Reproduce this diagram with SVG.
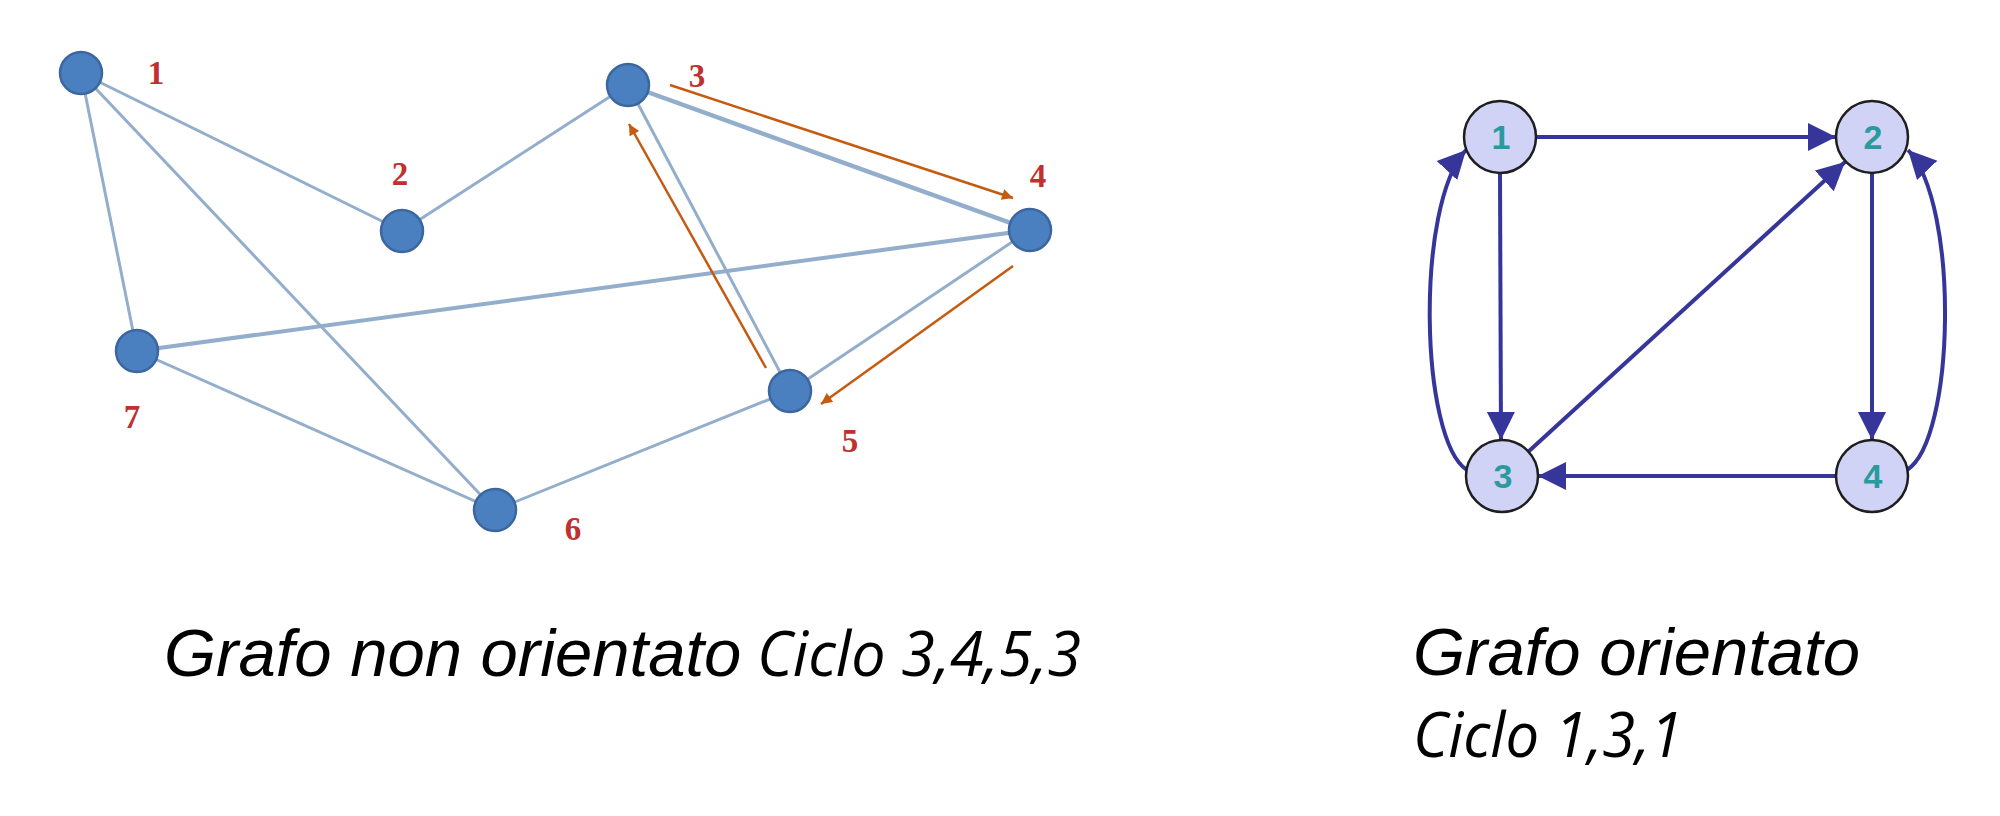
<svg xmlns="http://www.w3.org/2000/svg" width="2000" height="816" viewBox="0 0 2000 816">
<style>
.ue{stroke:#93aecb;stroke-width:3;fill:none}
.un circle{fill:#4a7fc0;stroke:#3b66a0;stroke-width:2.5}
.ul{font-family:"Liberation Serif",serif;font-weight:bold;font-size:33px;fill:#c0302e;text-anchor:middle}
.oa{stroke:#c55a11;stroke-width:2.5;fill:none;marker-end:url(#oarr)}
.de{stroke:#36359a;stroke-width:4;fill:none;marker-end:url(#darr)}
.dn circle{fill:#d0d2f6;stroke:#1e1e1e;stroke-width:2.5}
.dl{font-family:"Liberation Sans",Arial,sans-serif;font-weight:bold;font-size:34px;fill:#2b9a9c;text-anchor:middle}
.cap{font-family:"Liberation Sans",Arial,sans-serif;font-style:italic;font-size:67px;fill:#000}
.cyc{font-family:"Open Sans","Noto Sans",sans-serif;font-style:italic;font-size:62px;fill:#000}
</style>
<defs>
<marker id="oarr" viewBox="0 0 10 10" refX="10" refY="5" markerWidth="14" markerHeight="11" markerUnits="userSpaceOnUse" orient="auto">
<path d="M0,0 L10,5 L0,10 z" fill="#c55a11"/>
</marker>
<marker id="darr" viewBox="0 0 10 10" refX="10" refY="5" markerWidth="28" markerHeight="30" markerUnits="userSpaceOnUse" orient="auto">
<path d="M0,0 L10,5 L0,10 z" fill="#36359a"/>
</marker>
</defs>
<rect width="2000" height="816" fill="#fff"/>

<g id="undirected-edges">
<line class="ue" x1="81" y1="73" x2="402" y2="231"/>
<line class="ue" x1="81" y1="73" x2="137" y2="351"/>
<line class="ue" x1="81" y1="73" x2="495" y2="510"/>
<line class="ue" x1="402" y1="231" x2="628" y2="85"/>
<line class="ue" x1="628" y1="85" x2="1030" y2="230" style="stroke-width:4.5"/>
<line class="ue" x1="628" y1="85" x2="790" y2="391"/>
<line class="ue" x1="137" y1="351" x2="1030" y2="230" style="stroke-width:4"/>
<line class="ue" x1="1030" y1="230" x2="790" y2="391"/>
<line class="ue" x1="790" y1="391" x2="495" y2="510"/>
<line class="ue" x1="137" y1="351" x2="495" y2="510"/>
</g>
<g id="cycle-arrows">
<line class="oa" x1="670" y1="85" x2="1013" y2="198"/>
<line class="oa" x1="1013" y1="266" x2="821" y2="404"/>
<line class="oa" x1="766" y1="368" x2="629" y2="124"/>
</g>
<g id="u1" class="un"><circle cx="81" cy="73" r="21"/><text class="ul" x="156" y="84">1</text></g>
<g id="u2" class="un"><circle cx="402" cy="231" r="21"/><text class="ul" x="400" y="185">2</text></g>
<g id="u3" class="un"><circle cx="628" cy="85" r="21"/><text class="ul" x="697" y="87">3</text></g>
<g id="u4" class="un"><circle cx="1030" cy="230" r="21"/><text class="ul" x="1038" y="187">4</text></g>
<g id="u5" class="un"><circle cx="790" cy="391" r="21"/><text class="ul" x="850" y="452">5</text></g>
<g id="u6" class="un"><circle cx="495" cy="510" r="21"/><text class="ul" x="573" y="540">6</text></g>
<g id="u7" class="un"><circle cx="137" cy="351" r="21"/><text class="ul" x="132" y="428">7</text></g>

<g id="directed-edges">
<line class="de" x1="1536" y1="137" x2="1836" y2="137"/>
<line class="de" x1="1500" y1="173" x2="1501" y2="440"/>
<line class="de" x1="1872" y1="173" x2="1872" y2="440"/>
<line class="de" x1="1836" y1="476" x2="1538" y2="476"/>
<line class="de" x1="1528" y1="452" x2="1845" y2="162"/>
<path class="de" d="M1467,470 C1420,440 1415,205 1466,150"/>
<path class="de" d="M1907,470 C1955,440 1960,205 1908,150"/>
</g>
<g id="d1" class="dn"><circle cx="1500" cy="137" r="36"/><text class="dl" x="1501" y="149">1</text></g>
<g id="d2" class="dn"><circle cx="1872" cy="137" r="36"/><text class="dl" x="1873" y="149">2</text></g>
<g id="d3" class="dn"><circle cx="1502" cy="476" r="36"/><text class="dl" x="1503" y="488">3</text></g>
<g id="d4" class="dn"><circle cx="1872" cy="476" r="36"/><text class="dl" x="1873" y="488">4</text></g>

<g id="captions">
<text class="cap" x="164" y="676">Grafo non orientato</text>
<text class="cyc" x="757" y="676" textLength="324" lengthAdjust="spacingAndGlyphs">Ciclo 3,4,5,3</text>
<text class="cap" x="1413" y="675">Grafo orientato</text>
<text class="cyc" x="1413" y="757" textLength="270" lengthAdjust="spacingAndGlyphs">Ciclo 1,3,1</text>
</g>
</svg>
